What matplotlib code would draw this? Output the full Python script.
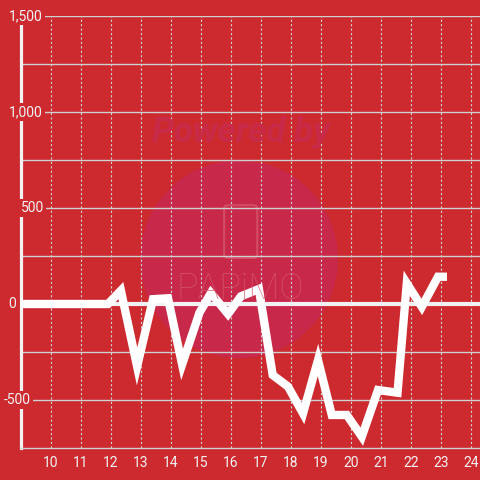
import matplotlib
matplotlib.use("Agg")
import matplotlib.pyplot as plt
from matplotlib.patches import Circle, FancyBboxPatch

# values
hours = [9.0, 11.9, 12.33, 12.87, 13.4, 13.9, 14.37, 14.95, 15.33, 15.9, 16.33,
         16.93, 17.39, 17.9, 18.4, 18.9, 19.36, 19.86, 20.36, 20.9, 21.55,
         21.86, 22.36, 22.9, 23.2]
values = [0, 0, 70, -325, 25, 30, -315, -45, 57, -52, 40,
          78, -370, -430, -570, -292, -578, -578, -691, -448, -462,
          108, -15, 142, 142]

xticks = list(range(10, 25))
yticks = [1500, 1000, 500, 0, -500]
ylabels = ["1,500", "1,000", "500", "0", "-500"]
ylabel_x = [0.048, 0.048, 0.05, -0.011, 0.022]

bg = "#cc2a2f"
fg = "#f2f2f2"
grid_c = "#d0d0d0"

plt.rcParams["font.family"] = ["Roboto", "DejaVu Sans"]

fig = plt.figure(figsize=(4.8, 4.8), dpi=100, facecolor=bg)
ax = fig.add_axes([21 / 480, 32 / 480, 459 / 480, 432 / 480], facecolor=bg)

# watermark
ax.add_patch(Circle((0.498, 0.46), 0.206, transform=fig.transFigure,
                    facecolor="#c8284a", edgecolor="none", zorder=0.1))
ax.add_patch(FancyBboxPatch((0.467, 0.4625), 0.069, 0.110,
                            boxstyle="round,pad=0,rounding_size=0.008",
                            transform=fig.transFigure, facecolor="none",
                            edgecolor="#d6566c", lw=1.5, alpha=0.8, zorder=0.2))
fig.text(0.502, 0.723, "Powered by", ha="center", va="center", fontsize=25,
         fontweight="bold", fontstyle="italic", color="#c82a48", zorder=0.2)
fig.text(0.5, 0.398, "PAPiMO", ha="center", va="center", fontsize=26,
         fontweight="light", color="#d6566c", alpha=0.75, zorder=0.2)

ax.set_xlim(9.0, 24.3)
ax.set_ylim(-750, 1500)

# grid
for v in range(-500, 1501, 250):
    ax.axhline(v, color=grid_c, lw=1, zorder=0.5)
for x in xticks:
    ax.axvline(x, color=grid_c, lw=0.8, ls=(0, (2, 2)), zorder=0.5)
ax.axhline(0, color=fg, lw=3, zorder=1)

ax.plot(hours, values, color="white", lw=6, solid_joinstyle="miter",
        solid_capstyle="butt", zorder=3)

ax.set_xticks(xticks)
ax.set_xticklabels([str(x) for x in xticks])
ax.tick_params(axis="x", length=0, colors=fg, labelsize=10, pad=6)
ax.set_yticks([])

for s in ["top", "right"]:
    ax.spines[s].set_visible(False)
ax.spines["bottom"].set_color(grid_c)
ax.spines["bottom"].set_linewidth(1)
ax.spines["left"].set_color(fg)
ax.spines["left"].set_linewidth(2.3)

for y, lab, lx in zip(yticks, ylabels, ylabel_x):
    ax.text(lx, y, lab, transform=ax.get_yaxis_transform(), ha="right",
            va="center", fontsize=10, color=fg, zorder=5, clip_on=False,
            bbox=dict(facecolor=bg, edgecolor="none", pad=1.5))

fig.savefig("out.png", dpi=100, facecolor=bg)
